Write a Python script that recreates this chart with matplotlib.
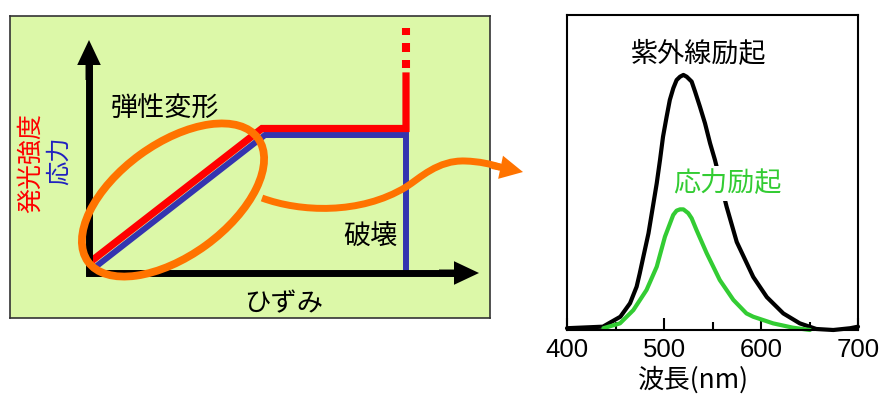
import matplotlib
matplotlib.use("Agg")
import matplotlib.pyplot as plt
from matplotlib.patches import Ellipse, PathPatch
from matplotlib.path import Path

plt.rcParams['font.family'] = ['Noto Sans CJK JP', 'DejaVu Sans']

# ---- right panel: emission spectra (black peak = 100) ----
wl_uv = [400, 437, 455, 465, 471.8, 475, 478.7, 484, 492.5, 495.9, 499, 502.7, 506,
         509.6, 513, 516.5, 520, 523.4, 528.5, 532, 537, 542.3, 547.5, 552.5,
         564.5, 575, 592, 606, 623, 640, 657, 674.5, 692, 700]
int_uv = [0.7, 1.3, 5.2, 10.5, 17.0, 22.2, 28.7, 37.9, 57.5, 66.7, 75.8, 83.6, 90.2,
          94.8, 98.0, 99.3, 100, 99.3, 97.4, 93.5, 87.6, 81.0, 73.2, 66.7,
          48.4, 34.5, 20.8, 12.9, 6.5, 2.6, 0.4, 0.0, 0.7, 1.3]
wl_ml = [437.5, 454.6, 468.4, 482, 492.5, 501, 509.5, 513, 516.5, 520, 525, 528.5,
         533.5, 544, 557.5, 571.5, 585, 592, 612.5, 633, 650.5]
int_ml = [0.7, 2.6, 7.8, 15.7, 24.8, 36.6, 45.1, 46.8, 47.3, 47.3, 45.8, 43.8,
          39.2, 30.1, 19.6, 11.8, 6.5, 5.2, 2.6, 0.9, 0.0]
wl_ticks = [400, 500, 600, 700]
wl_minor = [450, 550, 650]

# ---- left panel: schematic strain / stress diagram (frame units) ----
red_x = [84, 252, 396, 396]
red_y = [59, 189.5, 189.5, 242]
blue_x = [88, 255, 396, 396]
blue_y = [53, 183, 183, 50]
dash_lo = [250, 266, 283]
dash_hi = [258, 275, 290]
origin = (79, 45)
y_tip = 278
x_tip = 469

green_bg = '#dcf8a8'
orange = '#ff7300'

fig = plt.figure(figsize=(8.8, 3.94), dpi=100)

ax = fig.add_axes([10/880, 76/394, 480/880, 302/394])
ax.set_xlim(0, 480)
ax.set_ylim(0, 302)
ax.set_facecolor(green_bg)
ax.set_xticks([])
ax.set_yticks([])
for s in ax.spines.values():
    s.set_color('#333333')
    s.set_linewidth(1.2)

# stress (blue) and luminescence (red)
ax.plot(blue_x, blue_y, color='#3434b0', lw=4.3, solid_joinstyle='miter', zorder=2)
ax.plot(red_x, red_y, color='#ff0000', lw=5.2, solid_joinstyle='miter', zorder=3)
ax.vlines([red_x[-1]]*3, dash_lo, dash_hi, color='#ff0000', lw=5.8, zorder=3)

# axes arrows
ax.plot([origin[0], origin[0], x_tip-20], [y_tip-20, origin[1], origin[1]],
        color='k', lw=5, solid_joinstyle='miter', zorder=4)
head = dict(arrowstyle='simple,head_length=18,head_width=17,tail_width=5',
            mutation_scale=1, color='k', lw=0, shrinkA=0, shrinkB=0)
ax.annotate('', xy=(origin[0], y_tip), xytext=(origin[0], y_tip-40), arrowprops=head, zorder=4)
ax.annotate('', xy=(x_tip, origin[1]), xytext=(x_tip-40, origin[1]), arrowprops=head, zorder=4)

# orange ellipse and connector
ax.add_patch(Ellipse((163, 118), 210, 112, angle=36, fill=False,
                     edgecolor=orange, lw=5.6, zorder=5))
verts = [(252, 120), (290, 106), (350, 103), (396, 131),
         (410, 140), (428, 158), (455, 157),
         (470, 156.5), (480, 154), (490, 151)]
codes = [Path.MOVETO] + [Path.CURVE4]*9
ax.add_patch(PathPatch(Path(verts, codes), fill=False, edgecolor=orange,
                       lw=5, capstyle='butt', zorder=5, clip_on=False))
ax.annotate('', xy=(513, 146), xytext=(482, 152.5),
            arrowprops=dict(arrowstyle='simple,head_length=16.5,head_width=17,tail_width=5',
                            mutation_scale=1, color=orange, lw=0, shrinkA=0, shrinkB=0),
            annotation_clip=False, zorder=5)

ax.text(155, 209, '弾性変形', fontsize=19.5, ha='center', va='center', zorder=6)
ax.text(360.5, 81, '破壊', fontsize=19.5, ha='center', va='center', zorder=6)
ax.text(274, 14, 'ひずみ', fontsize=19, ha='center', va='center', zorder=6)
ax.text(21, 155, '発光強度', fontsize=18, color='#ff0000', rotation=90,
        ha='center', va='center', zorder=6)
ax.text(48.5, 157, '応力', fontsize=17.5, color='#2020c0', rotation=90,
        ha='center', va='center', zorder=6)

# ---- right panel ----
ax2 = fig.add_axes([567/880, 64/394, 291/880, 315/394])
ax2.plot(wl_uv, int_uv, color='k', lw=3.0, clip_on=False, zorder=2,
         solid_joinstyle='round', solid_capstyle='round')
ax2.plot(wl_ml, int_ml, color='#33cc33', lw=3.0, clip_on=False, zorder=2,
         solid_joinstyle='round', solid_capstyle='round')
ax2.set_xlim(400, 700)
ax2.set_ylim(0, 123.5)
ax2.set_yticks([])
ax2.set_xticks(wl_ticks)
ax2.set_xticks(wl_minor, minor=True)
ax2.tick_params(axis='x', which='major', direction='in', length=8.6, width=1.5,
                pad=6, labelsize=18.5)
ax2.tick_params(axis='x', which='minor', direction='in', length=5.8, width=1.5)
for lab in ax2.get_xticklabels():
    lab.set_fontfamily(['Liberation Sans', 'DejaVu Sans'])
for s in ax2.spines.values():
    s.set_linewidth(1.5)

ax2.text(535.6, 107.8, '紫外線励起', fontsize=19.5, ha='center', va='center', zorder=3)
ax2.text(565, 57.3, '応力励起', fontsize=19.5, color='#33cc33', ha='center', va='center',
         bbox=dict(facecolor='white', edgecolor='none', pad=3), zorder=3)

ax2.set_xlabel('波長(nm)', fontsize=19)
ax2.xaxis.set_label_coords(0.433, -0.159)
ax2.xaxis.label.set_va('center')

fig.savefig('out.png', dpi=100)
